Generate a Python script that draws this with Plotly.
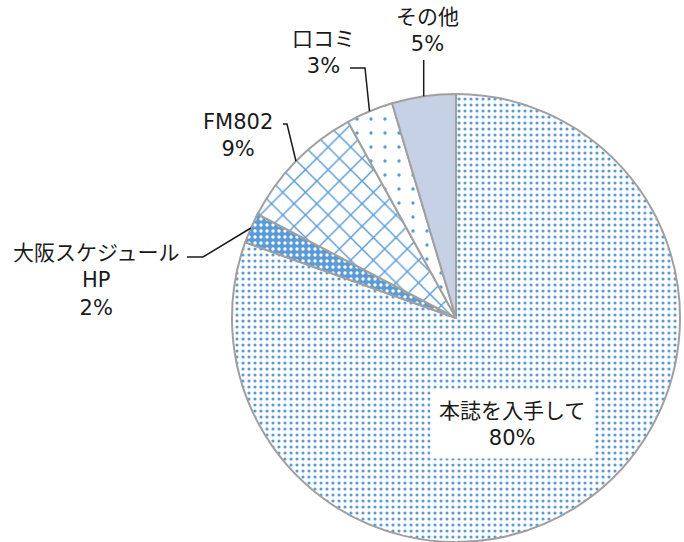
import math
import plotly.graph_objects as go

# ---- data ----
labels = ["本誌を入手して", "大阪スケジュールHP", "FM802", "口コミ", "その他"]
label_lines = [["本誌を入手して"], ["大阪スケジュール", "HP"], ["FM802"], ["口コミ"], ["その他"]]
values = [80.4, 2.2, 9.3, 3.4, 4.6]

# ---- styles ----
W, H = 684, 542
BLUE = "#5B9BD5"
fills = ["white", BLUE, "white", "white", "#C7D1E5"]
pat_shape = [".", ".", "x", ".", ""]
pat_fg = [BLUE, "white", BLUE, BLUE, BLUE]
pat_bg = ["white", BLUE, "white", "white", "#C7D1E5"]
pat_size = [6, 6, 16, 14, 8]
pat_sol = [0.22, 0.25, 0.17, 0.045, 0.3]

FONT = "DejaVu Sans, Noto Sans CJK JP, sans-serif"
FS = 21

# pie geometry (pixels, from top-left)
cx, cy, R = 456, 318, 224
dom_x = [(cx - R) / W, (cx + R) / W]
dom_y = [(H - cy - R) / H, (H - cy + R) / H]

fig = go.Figure()
fig.add_trace(go.Pie(
    labels=labels, values=values, sort=False, direction="clockwise", rotation=0,
    textinfo="none", hoverinfo="label+percent", showlegend=False,
    domain=dict(x=dom_x, y=dom_y),
    marker=dict(colors=fills,
                line=dict(color="#A0A0A0", width=2),
                pattern=dict(shape=pat_shape, fgcolor=pat_fg, bgcolor=pat_bg,
                             size=pat_size, solidity=pat_sol, fillmode="replace")),
))

# label anchor positions (layout), leader start points (layout)
label_pos = [(512, 424), (96, 280), (238, 135), (323, 52), (427, 30)]
leader_start = [None, [(187, 257), (203, 257)], [(283, 124), (287, 124)],
                [(350, 68), (365, 68)], "vertical60"]

total = sum(values)
cum = 0.0
for i, v in enumerate(values):
    mid = (cum + v / 2) / total * 2 * math.pi
    cum += v
    pct = round(v / total * 100)
    txt = "<br>".join(label_lines[i] + [f"{pct}%"])
    ex = cx + R * math.sin(mid)
    ey = cy - R * math.cos(mid)
    lx, ly = label_pos[i]
    if i == 0:
        fig.add_annotation(x=lx, y=ly, xref="x", yref="y", text=txt, showarrow=False,
                           font=dict(family=FONT, size=FS, color="#1a1a1a"),
                           bgcolor="white", borderpad=8, align="center")
        continue
    fig.add_annotation(x=lx, y=ly, xref="x", yref="y", text=txt, showarrow=False,
                       font=dict(family=FONT, size=FS, color="#1a1a1a"), align="center")
    st = leader_start[i]
    if st == "vertical60":
        pts = [(ex, 60), (ex, ey)]
    else:
        pts = st + [(ex, ey)]
    path = "M " + " L ".join(f"{px:.1f},{py:.1f}" for px, py in pts)
    fig.add_shape(type="path", path=path, xref="x", yref="y",
                  line=dict(color="#1a1a1a", width=1.5), layer="above")

fig.update_layout(
    width=W, height=H, margin=dict(l=0, r=0, t=0, b=0),
    paper_bgcolor="white", plot_bgcolor="rgba(0,0,0,0)",
    xaxis=dict(range=[0, W], visible=False, fixedrange=True),
    yaxis=dict(range=[H, 0], visible=False, fixedrange=True),
)
fig.write_html("out.html", config={"displayModeBar": False},
               post_script="document.body.style.margin='0';document.body.style.overflow='hidden';")
